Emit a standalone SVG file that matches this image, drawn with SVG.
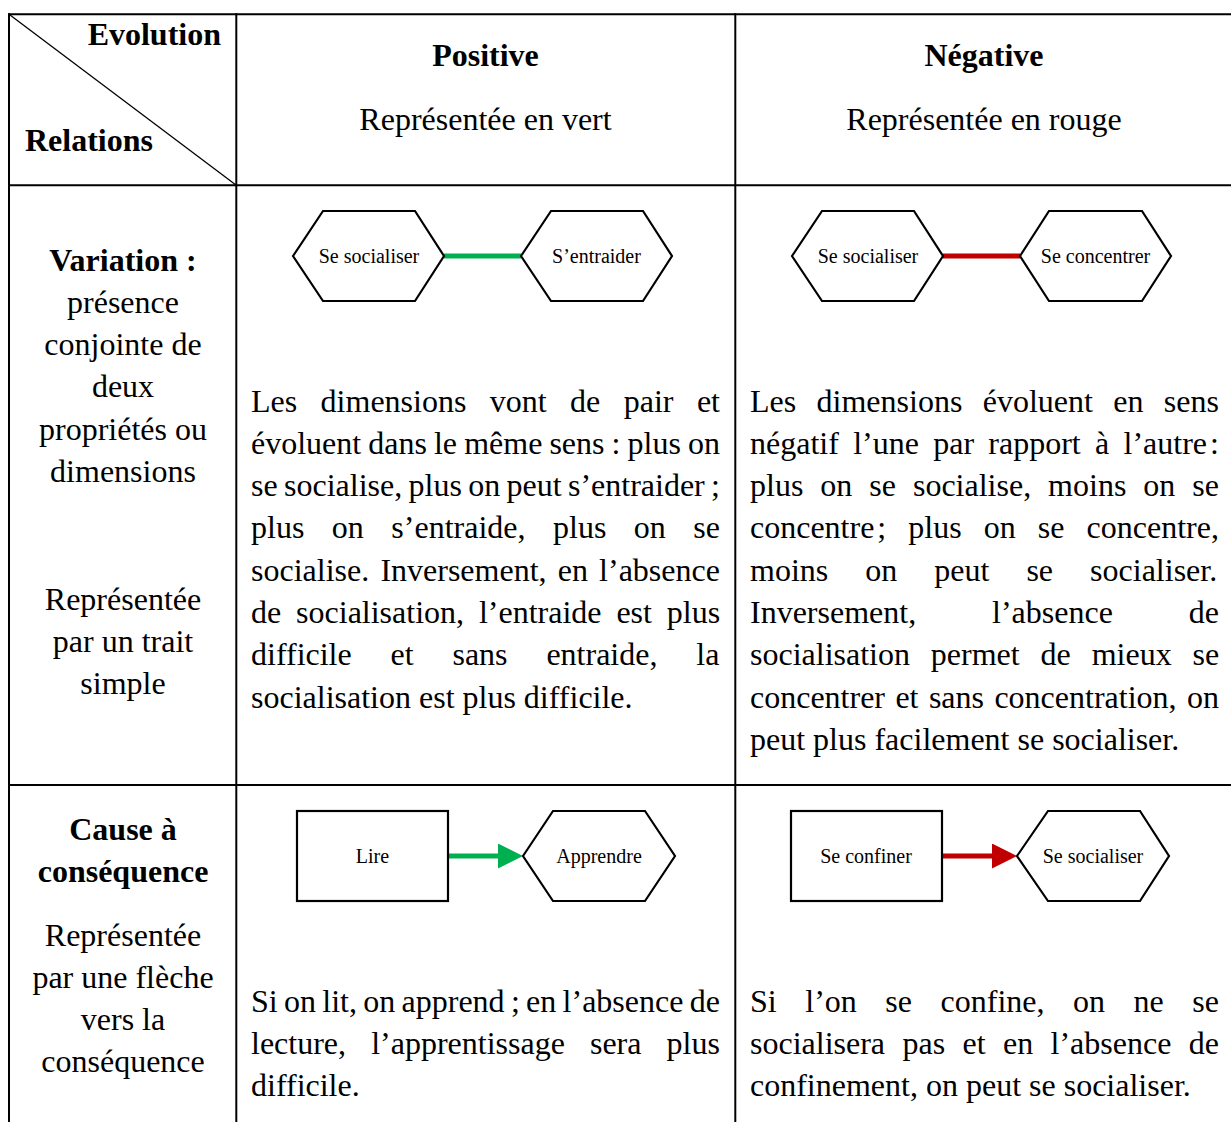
<svg xmlns="http://www.w3.org/2000/svg" width="1231" height="1122" viewBox="0 0 1231 1122">
<style>
.t{font-family:"Liberation Serif","Times New Roman",serif;font-size:32px;fill:#000}
.b{font-weight:bold}
.c{text-anchor:middle}
.n{font-family:"Liberation Serif","Times New Roman",serif;font-size:20px;fill:#000;text-anchor:middle}
.grid{stroke:#000;stroke-width:2;fill:none}
.shape{fill:#fff;stroke:#000;stroke-width:2.2;stroke-linejoin:miter}
.pos{stroke:#00B050;stroke-width:5;fill:none}
.neg{stroke:#C00000;stroke-width:5;fill:none}
</style>
<defs>
<marker id="ag" viewBox="0 0 25 25" refX="0" refY="12.5" markerWidth="25" markerHeight="25" markerUnits="userSpaceOnUse" orient="auto"><path d="M0,0 L25,12.5 L0,25 z" fill="#00B050"/></marker>
<marker id="ar" viewBox="0 0 25 25" refX="0" refY="12.5" markerWidth="25" markerHeight="25" markerUnits="userSpaceOnUse" orient="auto"><path d="M0,0 L25,12.5 L0,25 z" fill="#C00000"/></marker>
</defs>
<rect width="1231" height="1122" fill="#fff"/>
<g id="table" class="grid">
<line x1="8" y1="14.3" x2="1231" y2="14.3"/>
<line x1="8" y1="185.3" x2="1231" y2="185.3"/>
<line x1="8" y1="785" x2="1231" y2="785"/>
<line x1="9" y1="13.3" x2="9" y2="1122"/>
<line x1="236.3" y1="13.3" x2="236.3" y2="1122"/>
<line x1="735.3" y1="13.3" x2="735.3" y2="1122"/>
<line x1="9" y1="14.3" x2="236.3" y2="185.3" stroke-width="1.3"/>
</g>
<g id="header">
<text class="t b" x="221" y="44.5" text-anchor="end">Evolution</text>
<text class="t b" x="25" y="150.5">Relations</text>
<text class="t b c" x="485.5" y="65.5">Positive</text>
<text class="t c" x="485.5" y="129.5">Représentée en vert</text>
<text class="t b c" x="984" y="65.5">Négative</text>
<text class="t c" x="984" y="129.5">Représentée en rouge</text>
</g>
<g id="row1-label">
<text class="t b c" x="123" y="270.5">Variation :</text>
<text class="t c" x="123" y="312.8">présence</text>
<text class="t c" x="123" y="355.1">conjointe de</text>
<text class="t c" x="123" y="397.4">deux</text>
<text class="t c" x="123" y="439.7">propriétés ou</text>
<text class="t c" x="123" y="482">dimensions</text>
<text class="t c" x="123" y="609.5">Représentée</text>
<text class="t c" x="123" y="651.8">par un trait</text>
<text class="t c" x="123" y="694.1">simple</text>
</g>
<g id="row2-label">
<text class="t b c" x="123" y="839.5">Cause à</text>
<text class="t b c" x="123" y="881.8">conséquence</text>
<text class="t c" x="123" y="945.5">Représentée</text>
<text class="t c" x="123" y="987.8">par une flèche</text>
<text class="t c" x="123" y="1030.1">vers la</text>
<text class="t c" x="123" y="1072.4">conséquence</text>
</g>
<g id="connectors">
<line class="pos" x1="444" y1="256" x2="521" y2="256"/>
<line class="neg" x1="943" y1="256" x2="1020" y2="256"/>
<line class="pos" x1="448" y1="856" x2="498" y2="856" marker-end="url(#ag)"/>
<line class="neg" x1="942" y1="856" x2="992" y2="856" marker-end="url(#ar)"/>
</g>
<g id="node-socialiser-pos">
<path class="shape" d="M293,256 L323,211 L415,211 L444,256 L415,301 L323,301 Z"/>
<text class="n" x="369" y="263">Se socialiser</text>
</g>
<g id="node-entraider">
<path class="shape" d="M521,256 L551,211 L643,211 L672,256 L643,301 L551,301 Z"/>
<text class="n" x="596.5" y="263">S’entraider</text>
</g>
<g id="node-socialiser-neg">
<path class="shape" d="M792,256 L822,211 L914,211 L943,256 L914,301 L822,301 Z"/>
<text class="n" x="868" y="263">Se socialiser</text>
</g>
<g id="node-concentrer">
<path class="shape" d="M1020,256 L1049,211 L1142,211 L1171,256 L1142,301 L1049,301 Z"/>
<text class="n" x="1095.5" y="263">Se concentrer</text>
</g>
<g id="node-lire">
<rect class="shape" x="297" y="811" width="151" height="90"/>
<text class="n" x="372.5" y="863">Lire</text>
</g>
<g id="node-apprendre">
<path class="shape" d="M523,856 L553,811 L645,811 L675,856 L645,901 L553,901 Z"/>
<text class="n" x="599" y="863">Apprendre</text>
</g>
<g id="node-confiner">
<rect class="shape" x="791" y="811" width="151" height="90"/>
<text class="n" x="866" y="863">Se confiner</text>
</g>
<g id="node-socialiser-2">
<path class="shape" d="M1017,856 L1048,811 L1140,811 L1169,856 L1140,901 L1048,901 Z"/>
<text class="n" x="1093" y="863">Se socialiser</text>
</g>
<g id="text-pos-1">
<text class="t" x="251" y="411.5" style="word-spacing:15.41px">Les dimensions vont de pair et</text>
<text class="t" x="251" y="453.8" style="word-spacing:-0.93px">évoluent dans le même sens : plus on</text>
<text class="t" x="251" y="496.1" style="word-spacing:-1.67px">se socialise, plus on peut s’entraider ;</text>
<text class="t" x="251" y="538.4" style="word-spacing:19.5px">plus on s’entraide, plus on se</text>
<text class="t" x="251" y="580.7" style="word-spacing:3.19px">socialise. Inversement, en l’absence</text>
<text class="t" x="251" y="623" style="word-spacing:6.88px">de socialisation, l’entraide est plus</text>
<text class="t" x="251" y="665.3" style="word-spacing:30.83px">difficile et sans entraide, la</text>
<text class="t" x="251" y="707.6">socialisation est plus difficile.</text>
</g>
<g id="text-neg-1">
<text class="t" x="750" y="411.5" style="word-spacing:12.37px">Les dimensions évoluent en sens</text>
<text class="t" x="750" y="453.8" style="word-spacing:6.3px">négatif l’une par rapport à l’autre<tspan dx="3">:</tspan></text>
<text class="t" x="750" y="496.1" style="word-spacing:8.98px">plus on se socialise, moins on se</text>
<text class="t" x="750" y="538.4" style="word-spacing:14.08px">concentre<tspan dx="3">;</tspan> plus on se concentre,</text>
<text class="t" x="750" y="580.7" style="word-spacing:29.03px">moins on peut se socialiser.</text>
<text class="t" x="750" y="623" style="word-spacing:67.9px">Inversement, l’absence de</text>
<text class="t" x="750" y="665.3" style="word-spacing:12.88px">socialisation permet de mieux se</text>
<text class="t" x="750" y="707.6" style="word-spacing:2.4px">concentrer et sans concentration, on</text>
<text class="t" x="750" y="749.9">peut plus facilement se socialiser.</text>
</g>
<g id="text-pos-2">
<text class="t" x="251" y="1011.5" style="word-spacing:-1.7px">Si on lit, on apprend ; en l’absence de</text>
<text class="t" x="251" y="1053.8" style="word-spacing:17.1px">lecture, l’apprentissage sera plus</text>
<text class="t" x="251" y="1096.1">difficile.</text>
</g>
<g id="text-neg-2">
<text class="t" x="750" y="1011.5" style="word-spacing:20.55px">Si l’on se confine, on ne se</text>
<text class="t" x="750" y="1053.8" style="word-spacing:9.38px">socialisera pas et en l’absence de</text>
<text class="t" x="750" y="1096.1">confinement, on peut se socialiser.</text>
</g>
</svg>
